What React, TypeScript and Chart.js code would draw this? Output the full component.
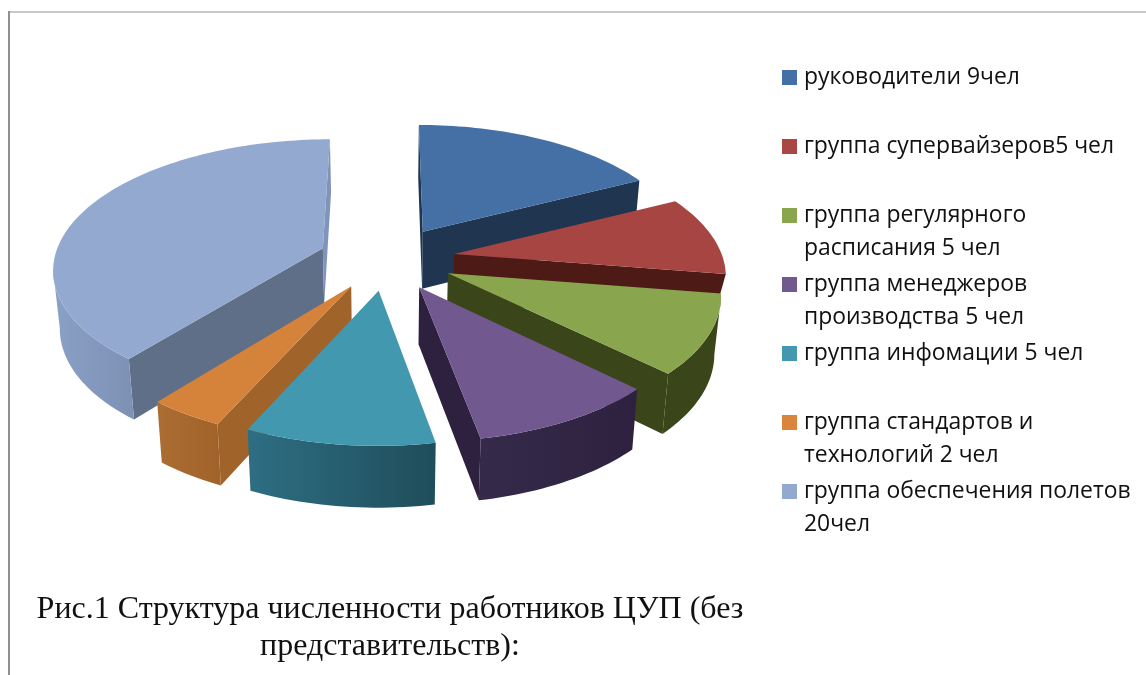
import React, { useEffect, useRef } from "react";
import { Chart, registerables } from "chart.js";

Chart.register(...registerables);

const categories = [
  "руководители 9чел",
  "группа супервайзеров5 чел",
  "группа регулярного\nрасписания 5 чел",
  "группа менеджеров\nпроизводства 5 чел",
  "группа инфомации 5 чел",
  "группа стандартов и\nтехнологий 2 чел",
  "группа обеспечения полетов\n20чел",
];
const headcount = [9, 5, 5, 5, 5, 2, 20];
const topColors = ["#4470a5", "#a64541", "#89a54e", "#71588f", "#4198af", "#d5823a", "#93a9cf"];
const legendColors = ["#4470a5", "#aa4643", "#89a54e", "#71588f", "#4198af", "#db843d", "#93a9cf"];
const startWallColors = ["#1f3550", "#4d1a16", "#3a4519", "#2e2140", "#1f4d5a", "#a0632a", "#5f6f88"];
const endWallColors = ["#1f3550", "#4d1a16", "#3a4519", "#2e2140", "#2e6e83", "#ac6d33", "#7f94b8"];
const rimRightColors = ["#1f3550", "#4d1a16", "#3a4519", "#2e2140", "#1f4d5a", "#a1632a", "#7e92b6"];
const rimLeftColors = ["#1f3550", "#4d1a16", "#3a4519", "#352a4a", "#2e6e83", "#ac6d33", "#8ba0c6"];
const rimDepthFactors = [1, 0.42, 1, 1, 1, 1, 1];
const paintOrder = [0, 6, 1, 2, 5, 3, 4];
const caption = ["Рис.1 Структура численности работников ЦУП (без", "представительств):"];

const CX = 387, CY = 259, A = 269, B = 127, P = 0.15, EA = 68, EB = 32, DEPTH = 57, LEAN = 0.11;

type Pt = { x: number; y: number; d: number };

const pie3d = {
  id: "pie3d",
  beforeDatasetsDraw(chart: any) {
    const ctx: CanvasRenderingContext2D = chart.ctx;
    const arcs = chart.getDatasetMeta(0).data;
    const edge = (p: Pt): Pt => ({ x: CX + (p.x - CX) * 0.98, y: p.y + p.d, d: 0 });
    const fillPoly = (pts: { x: number; y: number }[], fill: string | CanvasGradient) => {
      ctx.beginPath();
      pts.forEach((p, k) => (k ? ctx.lineTo(p.x, p.y) : ctx.moveTo(p.x, p.y)));
      ctx.closePath();
      ctx.fillStyle = fill;
      ctx.fill();
    };
    paintOrder.forEach((i) => {
      const arc = arcs[i];
      const a0 = arc.startAngle, a1 = arc.endAngle, mid = (a0 + a1) / 2;
      const off = EB * Math.sin(mid);
      const ax = CX + EA * Math.cos(mid), ay = CY + off;
      const sx = 1 + 0.0012 * Math.min(0, off), sy = 1 + 0.0012 * off;
      const apex: Pt = { x: ax, y: ay, d: DEPTH };
      const rim: Pt[] = [];
      const steps = Math.max(6, Math.round((a1 - a0) * 40));
      for (let s = 0; s <= steps; s++) {
        const t = a0 + ((a1 - a0) * s) / steps;
        const u = Math.cos(t), v = -Math.sin(t);
        const w = 1 + P * v;
        rim.push({
          x: ax + (sx * A * u) / w - (ax - CX) * LEAN * v,
          y: ay - (sy * B * v) / w,
          d: (rimDepthFactors[i] * DEPTH) / Math.sqrt(w),
        });
      }
      const first = rim[0], last = rim[rim.length - 1];
      if (first.x < apex.x) fillPoly([apex, first, edge(first), edge(apex)], startWallColors[i]);
      if (apex.x < last.x) fillPoly([last, apex, edge(apex), edge(last)], endWallColors[i]);
      const visible = rim.filter((p, s) => (s < rim.length - 1 && rim[s + 1].x < p.x) || (s > 0 && p.x < rim[s - 1].x));
      if (visible.length > 1) {
        const xs = visible.map((p) => p.x);
        const g = ctx.createLinearGradient(Math.min(...xs), 0, Math.max(...xs), 0);
        g.addColorStop(0, rimLeftColors[i]);
        g.addColorStop(1, rimRightColors[i]);
        fillPoly([...visible, ...visible.slice().reverse().map(edge)], g);
      }
      fillPoly([apex, ...rim], topColors[i]);
    });
    return false;
  },
  afterDraw(chart: any) {
    const ctx: CanvasRenderingContext2D = chart.ctx;
    ctx.save();
    ctx.fillStyle = "#c9c9c9";
    ctx.fillRect(9, 11, 1137, 2);
    ctx.fillStyle = "#8f8f8f";
    ctx.fillRect(8, 11, 2, 664);
    ctx.font = "22.9px 'Open Sans'";
    ctx.textBaseline = "middle";
    ctx.textAlign = "left";
    (chart.data.labels as string[]).forEach((label, i) => {
      const y = 77.5 + i * 69;
      ctx.fillStyle = legendColors[i];
      ctx.fillRect(782, y - 7.5, 15, 15);
      ctx.fillStyle = "#111111";
      label.split("\n").forEach((line, k) => ctx.fillText(line, 804, y + k * 33));
    });
    ctx.restore();
  },
};

export default function App() {
  const ref = useRef<HTMLCanvasElement>(null);
  useEffect(() => {
    const chart = new Chart(ref.current as HTMLCanvasElement, {
      type: "pie",
      data: {
        labels: categories,
        datasets: [{ data: headcount, backgroundColor: topColors, borderWidth: 0 }],
      },
      options: {
        responsive: false,
        animation: false,
        layout: { padding: { right: 366, bottom: 10 } },
        plugins: {
          legend: { display: false },
          tooltip: { enabled: false },
          title: {
            display: true,
            position: "bottom",
            fullSize: false,
            text: caption,
            color: "#111111",
            font: { family: "'Liberation Serif'", size: 32, weight: "normal", lineHeight: 1.16 },
            padding: 0,
          },
        },
      },
      plugins: [pie3d],
    } as any);
    return () => chart.destroy();
  }, []);
  return (
    <div style={{ position: "absolute", left: 0, top: 0, width: 1146, height: 675, background: "#fff" }}>
      <canvas ref={ref} width={1146} height={675} style={{ display: "block" }} />
    </div>
  );
}
